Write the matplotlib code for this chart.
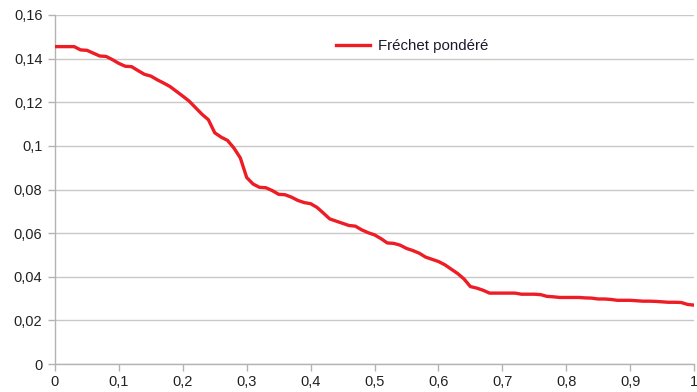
import matplotlib
matplotlib.use('Agg')
import matplotlib.pyplot as plt
from matplotlib.ticker import FuncFormatter, MultipleLocator

# sampling positions and weighted Fréchet values
x_vals = [0.00, 0.01, 0.02, 0.03, 0.04, 0.05, 0.06, 0.07, 0.08, 0.09,
          0.10, 0.11, 0.12, 0.13, 0.14, 0.15, 0.16, 0.17, 0.18, 0.19,
          0.20, 0.21, 0.22, 0.23, 0.24, 0.25, 0.26, 0.27, 0.28, 0.29,
          0.30, 0.31, 0.32, 0.33, 0.34, 0.35, 0.36, 0.37, 0.38, 0.39,
          0.40, 0.41, 0.42, 0.43, 0.44, 0.45, 0.46, 0.47, 0.48, 0.49,
          0.50, 0.51, 0.52, 0.53, 0.54, 0.55, 0.56, 0.57, 0.58, 0.59,
          0.60, 0.61, 0.62, 0.63, 0.64, 0.65, 0.66, 0.67, 0.68, 0.69,
          0.70, 0.71, 0.72, 0.73, 0.74, 0.75, 0.76, 0.77, 0.78, 0.79,
          0.80, 0.81, 0.82, 0.83, 0.84, 0.85, 0.86, 0.87, 0.88, 0.89,
          0.90, 0.91, 0.92, 0.93, 0.94, 0.95, 0.96, 0.97, 0.98, 0.99,
          1.00]
frechet = [0.1455, 0.1455, 0.1455, 0.1455, 0.1440, 0.1438, 0.1425, 0.1412, 0.1410, 0.1395,
           0.1378, 0.1365, 0.1363, 0.1345, 0.1328, 0.1320, 0.1303, 0.1288, 0.1272, 0.1250,
           0.1228, 0.1205, 0.1175, 0.1145, 0.1120, 0.1060, 0.1040, 0.1025, 0.0990, 0.0945,
           0.0855, 0.0825, 0.0810, 0.0808, 0.0795, 0.0778, 0.0776, 0.0765, 0.0750, 0.0740,
           0.0735, 0.0718, 0.0692, 0.0665, 0.0655, 0.0645, 0.0635, 0.0632, 0.0615, 0.0602,
           0.0592, 0.0575, 0.0555, 0.0553, 0.0545, 0.0530, 0.0520, 0.0508, 0.0490, 0.0480,
           0.0470, 0.0455, 0.0435, 0.0415, 0.0390, 0.0355, 0.0348, 0.0338, 0.0325, 0.0325,
           0.0325, 0.0325, 0.0325, 0.0320, 0.0320, 0.0320, 0.0318, 0.0310, 0.0308, 0.0305,
           0.0305, 0.0305, 0.0305, 0.0303, 0.0302, 0.0298, 0.0298, 0.0296, 0.0292, 0.0292,
           0.0292, 0.0290, 0.0288, 0.0288, 0.0287, 0.0285, 0.0283, 0.0283, 0.0282, 0.0273,
           0.0270]
series_name = 'Fréchet pondéré'

plt.rcParams['font.family'] = ['Liberation Sans', 'DejaVu Sans']

fig = plt.figure(figsize=(6.97, 3.92), dpi=100)
ax = fig.add_axes([55 / 697, 1 - 364 / 392, 639 / 697, 349 / 392])

ax.plot(x_vals, frechet, color='#ee1c25', linewidth=2.4, label=series_name,
        solid_joinstyle='round', zorder=3)

ax.set_xlim(0, 1)
ax.set_ylim(0, 0.16)
ax.xaxis.set_major_locator(MultipleLocator(0.1))
ax.yaxis.set_major_locator(MultipleLocator(0.02))


def comma_fmt(v, pos):
    return ('%g' % round(v, 4)).replace('.', ',')


ax.xaxis.set_major_formatter(FuncFormatter(comma_fmt))
ax.yaxis.set_major_formatter(FuncFormatter(comma_fmt))

ax.grid(axis='y', color='#c8c8c8', linewidth=1.0)
ax.set_axisbelow(True)
for side in ['top', 'right']:
    ax.spines[side].set_visible(False)
for side in ['left', 'bottom']:
    ax.spines[side].set_color('#b3b3b3')
    ax.spines[side].set_linewidth(1.0)
ax.tick_params(axis='both', colors='#b3b3b3', labelcolor='#222222',
               labelsize=10.5, length=5, width=1.0)
ax.tick_params(axis='y', pad=4)
ax.tick_params(axis='x', pad=3)

leg = ax.legend(loc='upper left', bbox_to_anchor=(0.418, 0.97), frameon=False,
                fontsize=10.8, handlelength=2.3, handletextpad=0.5)
for t in leg.get_texts():
    t.set_color('#1a1a2e')

fig.savefig('out.png', dpi=100)
